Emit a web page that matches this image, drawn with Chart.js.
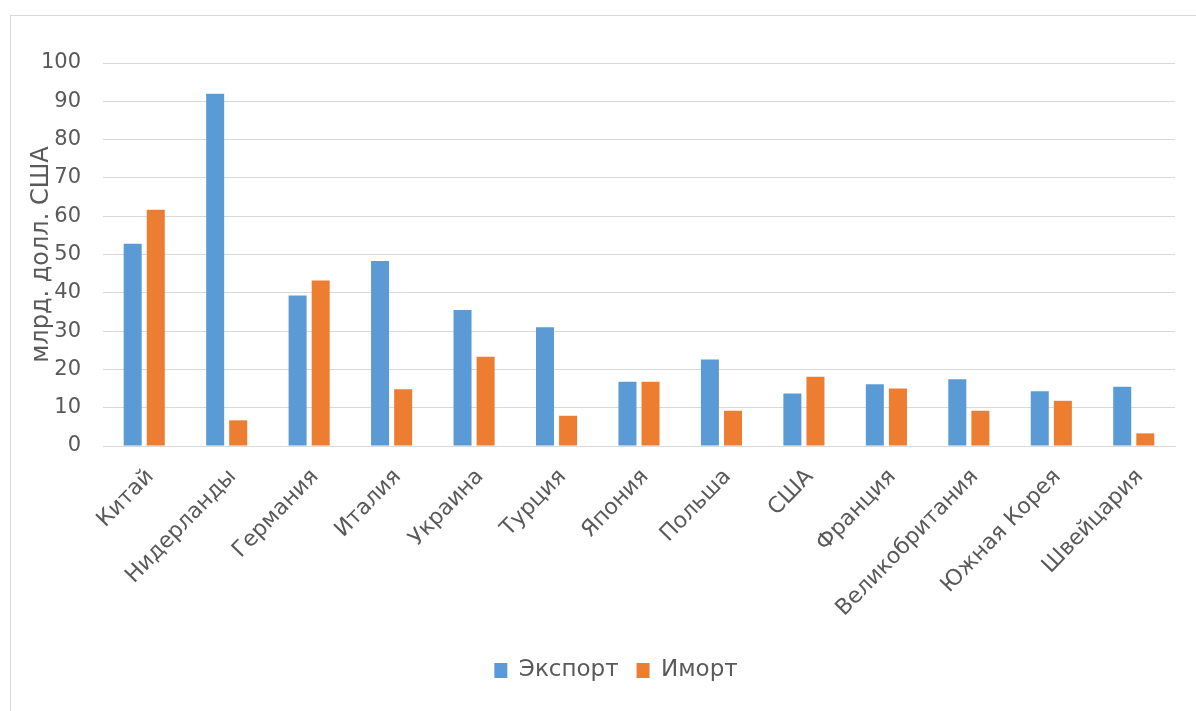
<!DOCTYPE html>
<html>
<head>
<meta charset="utf-8">
<script src="https://cdn.jsdelivr.net/npm/chart.js@4.4.1/dist/chart.umd.min.js"></script>
<style>
    html, body { margin: 0; padding: 0; background: #fff; }
    #wrap { position: relative; width: 1196px; height: 711px; overflow: hidden; }
    #frame { position: absolute; left: 10px; top: 15px; width: 1300px; height: 800px;
             border-left: 1px solid #d9d9d9; border-top: 1px solid #d9d9d9; }
    canvas { position: absolute; left: 0; top: 0; }
</style>
</head>
<body>
<div id="wrap">
    <div id="frame"></div>
    <canvas id="tradeChart" width="1196" height="711"></canvas>
</div>
<script>
// countries on the x-axis
const countries = [
    'Китай', 'Нидерланды', 'Германия', 'Италия', 'Украина', 'Турция', 'Япония',
    'Польша', 'США', 'Франция', 'Великобритания', 'Южная Корея', 'Швейцария'
];
// values, млрд. долл. США
const exportValues = [52.8, 92, 39.3, 48.3, 35.5, 31, 16.8, 22.6, 13.7, 16.1, 17.4, 14.3, 15.5];
const importValues = [61.7, 6.7, 43.2, 14.8, 23.3, 7.9, 16.8, 9.2, 18.1, 15, 9.2, 11.8, 3.3];
const seriesNames = ['Экспорт', 'Иморт'];
const yTitle = 'млрд. долл. США';

const FONT = 'DejaVu Sans';
const textColor = '#595959';
const gridColor = '#d9d9d9';

// nudge the legend a bit to the right, like in the original
const legendShift = {
    id: 'legendShift',
    afterLayout(chart) {
        if (chart.legend) {
            chart.legend.left += 15;
            chart.legend.right += 15;
        }
    }
};

const ctx = document.getElementById('tradeChart').getContext('2d');

const chart = new Chart(ctx, {
    type: 'bar',
    data: {
        labels: countries,
        datasets: [{
            label: seriesNames[0],
            data: exportValues,
            backgroundColor: '#5b9bd5', // blue
            categoryPercentage: 0.56,
            barPercentage: 0.78
        }, {
            label: seriesNames[1],
            data: importValues,
            backgroundColor: '#ed7d31', // orange
            categoryPercentage: 0.56,
            barPercentage: 0.78
        }]
    },
    options: {
        responsive: false,
        animation: false,
        layout: {
            padding: { left: 27, right: 21, top: 63, bottom: 19 }
        },
        plugins: {
            tooltip: { enabled: false },
            legend: {
                position: 'bottom',
                labels: {
                    color: textColor,
                    font: { family: FONT, size: 23 },
                    boxWidth: 13,
                    boxHeight: 15,
                    padding: 18
                }
            }
        },
        scales: {
            x: {
                grid: { display: false, drawTicks: false },
                border: { color: gridColor, width: 1 },
                ticks: {
                    color: textColor,
                    font: { family: FONT, size: 22 },
                    minRotation: 46,
                    maxRotation: 46,
                    autoSkip: false,
                    padding: 18,
                    labelOffset: 6
                },
                afterFit: function (axis) { axis.height = 195; }
            },
            y: {
                min: 0,
                max: 100,
                grid: { color: gridColor, lineWidth: 1, drawTicks: false },
                border: { display: false },
                ticks: {
                    stepSize: 10,
                    color: textColor,
                    font: { family: FONT, size: 21 },
                    padding: 22
                },
                title: {
                    display: true,
                    text: yTitle,
                    color: textColor,
                    font: { family: FONT, size: 24 },
                    padding: 0
                },
                afterFit: function (axis) { axis.width = 76; }
            }
        }
    },
    plugins: [legendShift]
});
</script>
</body>
</html>
